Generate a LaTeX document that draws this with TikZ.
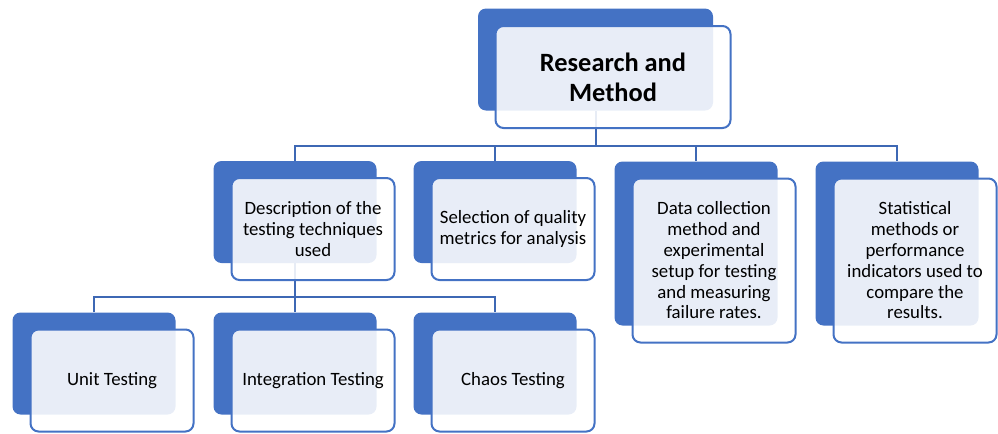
\documentclass[tikz,border=0pt]{standalone}
\usepackage{fontspec}
\setmainfont{Carlito}
\usepackage{tikz}

\definecolor{smblue}{RGB}{68,114,196}
\definecolor{lnblue}{RGB}{62,104,180}

\begin{document}
\begin{tikzpicture}[x=0.75pt,y=0.75pt,yscale=-1,
  back/.style={rectangle, rounded corners=6pt, fill=smblue, inner sep=0pt,
    minimum width=122.25pt, minimum height=76.5pt},
  front/.style={rectangle, rounded corners=6pt, draw=smblue, line width=1.5pt,
    fill=white, fill opacity=0.88, text opacity=1, inner sep=0pt,
    minimum width=122.25pt, minimum height=76.5pt, align=center,
    font=\fontsize{14.1}{15.6}\selectfont},
  tall/.style={minimum height=123pt},
  conn/.style={draw=lnblue, line width=1.5pt}]
\useasboundingbox (0,0) rectangle (998,433);

%Back blocks
\node [back, minimum width=176.25pt] (rmb) at (595.5,59.5) {};
\node [back] (d1b) at (295,212) {};
\node [back] (d2b) at (495,212) {};
\node [back, tall] (d3b) at (696,243.5) {};
\node [back, tall] (d4b) at (897,243.5) {};
\node [back] (u1b) at (94,363.5) {};
\node [back] (u2b) at (295,363.5) {};
\node [back] (u3b) at (495,363.5) {};

%Connectors
\coordinate (bus1) at (595.5,146);
\coordinate (bus2) at (295,297);
\draw [conn] (rmb.south) -- (bus1);
\draw [conn] (d1b.north) |- (bus1) -| (d4b.north);
\draw [conn] (d2b.north) -- (d2b.north |- bus1);
\draw [conn] (d3b.north) -- (d3b.north |- bus1);
\draw [conn] (d1b.south) -- (bus2);
\draw [conn] (u1b.north) |- (bus2) -| (u3b.north);
\draw [conn] (u2b.north) -- (bus2);

%Front blocks with text
\node [front, minimum width=176.25pt, font=\fontsize{19.8}{22.5}\selectfont\bfseries] (rm) at (613,77) {Research and\\Method};
\node [front] (d1) at (313,229) {Description of the\\testing techniques\\used};
\node [front] (d2) at (513,229) {Selection of quality\\metrics for analysis};
\node [front, tall] (d3) at (714,260.5) {Data collection\\method and\\experimental\\setup for testing\\and measuring\\failure rates.};
\node [front, tall] (d4) at (915,260.5) {Statistical\\methods or\\performance\\indicators used to\\compare the\\results.};
\node [front] (u1) at (112,380.5) {Unit Testing};
\node [front] (u2) at (313,380.5) {Integration Testing};
\node [front] (u3) at (513,380.5) {Chaos Testing};

\end{tikzpicture}
\end{document}
